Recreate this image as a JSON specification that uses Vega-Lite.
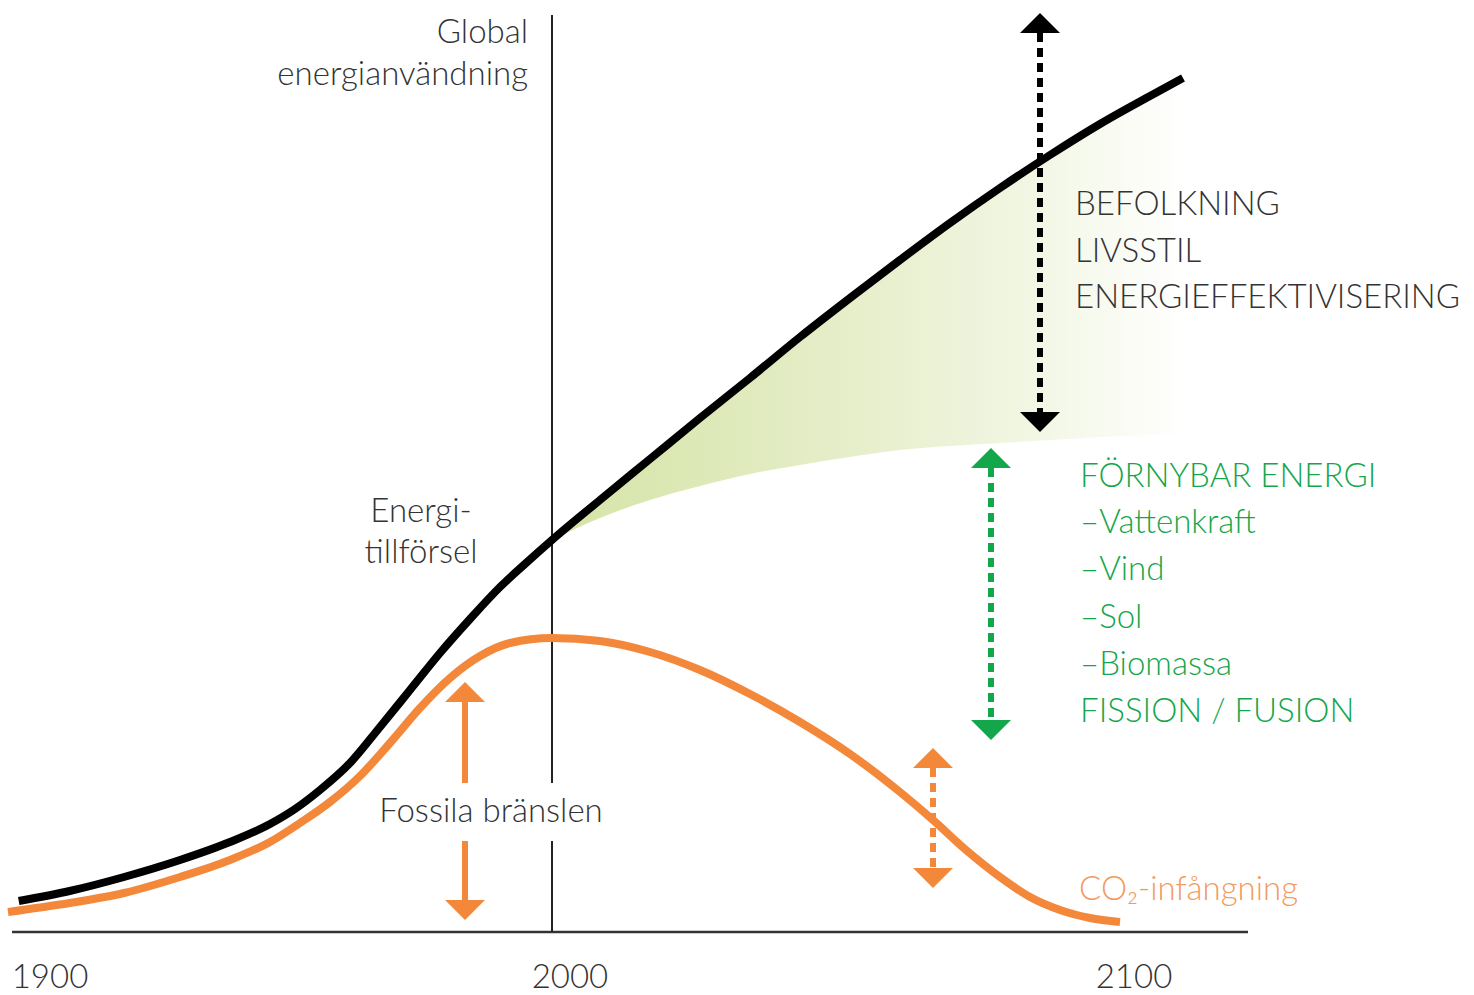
{
  "$schema": "https://vega.github.io/schema/vega-lite/v6.json",
  "width": 1474,
  "height": 995,
  "autosize": {"type": "none"},
  "padding": 0,
  "background": "white",
  "config": {"view": {"stroke": null}},
  "datasets": {
    "curves": [
      {"series": "energy", "year": 1899.76, "value": 94},
      {"series": "energy", "year": 1909.34, "value": 104},
      {"series": "energy", "year": 1919.55, "value": 118},
      {"series": "energy", "year": 1930.08, "value": 135},
      {"series": "energy", "year": 1939.47, "value": 153},
      {"series": "energy", "year": 1946.99, "value": 171},
      {"series": "energy", "year": 1951.69, "value": 186},
      {"series": "energy", "year": 1956.39, "value": 205},
      {"series": "energy", "year": 1962.03, "value": 232},
      {"series": "energy", "year": 1967.67, "value": 268},
      {"series": "energy", "year": 1973.31, "value": 305},
      {"series": "energy", "year": 1978.95, "value": 342},
      {"series": "energy", "year": 1984.59, "value": 376},
      {"series": "energy", "year": 1990.23, "value": 408},
      {"series": "energy", "year": 1994.92, "value": 431},
      {"series": "energy", "year": 2000, "value": 455},
      {"series": "energy", "year": 2009.02, "value": 495},
      {"series": "energy", "year": 2018.42, "value": 536},
      {"series": "energy", "year": 2027.82, "value": 577},
      {"series": "energy", "year": 2037.22, "value": 617},
      {"series": "energy", "year": 2046.62, "value": 658},
      {"series": "energy", "year": 2056.02, "value": 697},
      {"series": "energy", "year": 2065.41, "value": 735},
      {"series": "energy", "year": 2074.81, "value": 772},
      {"series": "energy", "year": 2084.21, "value": 807},
      {"series": "energy", "year": 2093.61, "value": 840},
      {"series": "energy", "year": 2103.01, "value": 871},
      {"series": "energy", "year": 2112.41, "value": 899},
      {"series": "energy", "year": 2118.61, "value": 917},
      {"series": "fossil", "year": 1897.74, "value": 83},
      {"series": "fossil", "year": 1909.34, "value": 92},
      {"series": "fossil", "year": 1919.55, "value": 102},
      {"series": "fossil", "year": 1930.08, "value": 118},
      {"series": "fossil", "year": 1939.47, "value": 135},
      {"series": "fossil", "year": 1946.99, "value": 153},
      {"series": "fossil", "year": 1952.63, "value": 172},
      {"series": "fossil", "year": 1958.27, "value": 193},
      {"series": "fossil", "year": 1963.91, "value": 219},
      {"series": "fossil", "year": 1969.55, "value": 252},
      {"series": "fossil", "year": 1975.19, "value": 287},
      {"series": "fossil", "year": 1980.83, "value": 317},
      {"series": "fossil", "year": 1986.47, "value": 339},
      {"series": "fossil", "year": 1992.11, "value": 352},
      {"series": "fossil", "year": 2000, "value": 357},
      {"series": "fossil", "year": 2009.02, "value": 354},
      {"series": "fossil", "year": 2018.42, "value": 343},
      {"series": "fossil", "year": 2027.82, "value": 325},
      {"series": "fossil", "year": 2037.22, "value": 301},
      {"series": "fossil", "year": 2046.62, "value": 273},
      {"series": "fossil", "year": 2056.02, "value": 241},
      {"series": "fossil", "year": 2065.41, "value": 203},
      {"series": "fossil", "year": 2071.62, "value": 175},
      {"series": "fossil", "year": 2077.82, "value": 145},
      {"series": "fossil", "year": 2084.21, "value": 118},
      {"series": "fossil", "year": 2089.85, "value": 98},
      {"series": "fossil", "year": 2095.49, "value": 85},
      {"series": "fossil", "year": 2101.13, "value": 77},
      {"series": "fossil", "year": 2106.77, "value": 73}
    ],
    "band": [
      {"year": 2000, "upper": 455, "lower": 455},
      {"year": 2009.02, "upper": 495, "lower": 477},
      {"year": 2018.42, "upper": 536, "lower": 495},
      {"year": 2027.82, "upper": 577, "lower": 509},
      {"year": 2037.22, "upper": 617, "lower": 521},
      {"year": 2046.62, "upper": 658, "lower": 530},
      {"year": 2056.02, "upper": 697, "lower": 538},
      {"year": 2065.41, "upper": 735, "lower": 545},
      {"year": 2074.81, "upper": 772, "lower": 549},
      {"year": 2084.21, "upper": 807, "lower": 552},
      {"year": 2093.61, "upper": 840, "lower": 555},
      {"year": 2103.01, "upper": 871, "lower": 558},
      {"year": 2112.41, "upper": 899, "lower": 560},
      {"year": 2118.61, "upper": 917, "lower": 561}
    ],
    "baseline": [{"year": 1898.5, "year2": 2130.83, "value": 63}],
    "marker": [
      {"year": 2000, "from": 980, "to": 212},
      {"year": 2000, "from": 154, "to": 63}
    ],
    "shafts": [
      {"kind": "energy", "style": "dashed", "year": 2091.73, "from": 962, "to": 583},
      {"kind": "renewable", "style": "dashed", "year": 2082.52, "from": 527, "to": 275},
      {"kind": "fossil", "style": "dashed", "year": 2071.62, "from": 227, "to": 127},
      {"kind": "fossil", "style": "solid", "year": 1983.65, "from": 293, "to": 212},
      {"kind": "fossil", "style": "solid", "year": 1983.65, "from": 154, "to": 95}
    ],
    "heads": [
      {"kind": "energy", "dir": "up", "year": 2091.73, "value": 962},
      {"kind": "energy", "dir": "down", "year": 2091.73, "value": 583},
      {"kind": "renewable", "dir": "up", "year": 2082.52, "value": 527},
      {"kind": "renewable", "dir": "down", "year": 2082.52, "value": 275},
      {"kind": "fossil", "dir": "up", "year": 2071.62, "value": 227},
      {"kind": "fossil", "dir": "down", "year": 2071.62, "value": 127},
      {"kind": "fossil", "dir": "up", "year": 1983.65, "value": 293},
      {"kind": "fossil", "dir": "down", "year": 1983.65, "value": 95}
    ],
    "labels": [
      {"text": "Global", "kind": "label", "anchor": "end", "year": 1995.49, "value": 952},
      {"text": "energianvändning", "kind": "label", "anchor": "end", "year": 1995.49, "value": 910},
      {"text": "Energi-", "kind": "label", "anchor": "middle", "year": 1975.38, "value": 473},
      {"text": "tillförsel", "kind": "label", "anchor": "middle", "year": 1975.38, "value": 432},
      {"text": "Fossila bränslen", "kind": "label", "anchor": "middle", "year": 1988.53, "value": 173},
      {"text": "1900", "kind": "label", "anchor": "middle", "year": 1905.64, "value": 7},
      {"text": "2000", "kind": "label", "anchor": "middle", "year": 2003.38, "value": 7},
      {"text": "2100", "kind": "label", "anchor": "middle", "year": 2109.4, "value": 7},
      {"text": "BEFOLKNING", "kind": "label", "anchor": "start", "year": 2098.31, "value": 780},
      {"text": "LIVSSTIL", "kind": "label", "anchor": "start", "year": 2098.31, "value": 733},
      {"text": "ENERGIEFFEKTIVISERING", "kind": "label", "anchor": "start", "year": 2098.31, "value": 687},
      {"text": "FÖRNYBAR ENERGI", "kind": "renewable", "anchor": "start", "year": 2099.25, "value": 508},
      {"text": "–Vattenkraft", "kind": "renewable", "anchor": "start", "year": 2099.25, "value": 462},
      {"text": "–Vind", "kind": "renewable", "anchor": "start", "year": 2099.25, "value": 415},
      {"text": "–Sol", "kind": "renewable", "anchor": "start", "year": 2099.25, "value": 367},
      {"text": "–Biomassa", "kind": "renewable", "anchor": "start", "year": 2099.25, "value": 320},
      {"text": "FISSION / FUSION", "kind": "renewable", "anchor": "start", "year": 2099.25, "value": 273},
      {"text": "CO₂-infångning", "kind": "co2", "anchor": "start", "year": 2099.06, "value": 95}
    ]
  },
  "layer": [
    {
      "data": {"name": "band"},
      "mark": {
        "type": "area",
        "interpolate": "monotone",
        "color": {
          "gradient": "linear",
          "x1": 0, "y1": 0, "x2": 1, "y2": 0,
          "stops": [
            {"offset": 0, "color": "#d6e4a6"},
            {"offset": 0.4, "color": "#e3ecc4"},
            {"offset": 0.75, "color": "#f1f6e2"},
            {"offset": 1, "color": "#ffffff"}
          ]
        }
      },
      "encoding": {
        "x": {"field": "year", "type": "quantitative", "scale": {"domain": [1896.24, 2173.31], "nice": false, "zero": false}, "axis": null},
        "y": {"field": "upper", "type": "quantitative", "scale": {"domain": [0, 995], "nice": false, "zero": false}, "axis": null},
        "y2": {"field": "lower"}
      }
    },
    {
      "data": {"name": "baseline"},
      "mark": {"type": "rule", "color": "#333333", "strokeWidth": 2.5},
      "encoding": {
        "x": {"field": "year", "type": "quantitative", "scale": {"domain": [1896.24, 2173.31], "nice": false, "zero": false}, "axis": null},
        "x2": {"field": "year2"},
        "y": {"field": "value", "type": "quantitative", "scale": {"domain": [0, 995], "nice": false, "zero": false}, "axis": null}
      }
    },
    {
      "data": {"name": "marker"},
      "mark": {"type": "rule", "color": "#222222", "strokeWidth": 2},
      "encoding": {
        "x": {"field": "year", "type": "quantitative", "scale": {"domain": [1896.24, 2173.31], "nice": false, "zero": false}, "axis": null},
        "y": {"field": "from", "type": "quantitative", "scale": {"domain": [0, 995], "nice": false, "zero": false}, "axis": null},
        "y2": {"field": "to"}
      }
    },
    {
      "data": {"name": "curves"},
      "mark": {"type": "line", "interpolate": "monotone", "strokeWidth": 8, "strokeCap": "butt"},
      "encoding": {
        "x": {"field": "year", "type": "quantitative", "scale": {"domain": [1896.24, 2173.31], "nice": false, "zero": false}, "axis": null},
        "y": {"field": "value", "type": "quantitative", "scale": {"domain": [0, 995], "nice": false, "zero": false}, "axis": null},
        "color": {"field": "series", "type": "nominal", "scale": {"domain": ["energy", "fossil", "renewable", "label", "co2"], "range": ["#000000", "#f3883a", "#14a64a", "#333333", "#f39a5e"]}, "legend": null},
        "order": {"field": "year", "type": "quantitative"}
      }
    },
    {
      "data": {"name": "shafts"},
      "transform": [{"filter": "datum.style === 'dashed'"}],
      "mark": {"type": "rule", "strokeWidth": 6, "strokeDash": [9, 6]},
      "encoding": {
        "x": {"field": "year", "type": "quantitative", "scale": {"domain": [1896.24, 2173.31], "nice": false, "zero": false}, "axis": null},
        "y": {"field": "from", "type": "quantitative", "scale": {"domain": [0, 995], "nice": false, "zero": false}, "axis": null},
        "y2": {"field": "to"},
        "color": {"field": "kind", "type": "nominal", "scale": {"domain": ["energy", "fossil", "renewable", "label", "co2"], "range": ["#000000", "#f3883a", "#14a64a", "#333333", "#f39a5e"]}, "legend": null}
      }
    },
    {
      "data": {"name": "shafts"},
      "transform": [{"filter": "datum.style === 'solid'"}],
      "mark": {"type": "rule", "strokeWidth": 6},
      "encoding": {
        "x": {"field": "year", "type": "quantitative", "scale": {"domain": [1896.24, 2173.31], "nice": false, "zero": false}, "axis": null},
        "y": {"field": "from", "type": "quantitative", "scale": {"domain": [0, 995], "nice": false, "zero": false}, "axis": null},
        "y2": {"field": "to"},
        "color": {"field": "kind", "type": "nominal", "scale": {"domain": ["energy", "fossil", "renewable", "label", "co2"], "range": ["#000000", "#f3883a", "#14a64a", "#333333", "#f39a5e"]}, "legend": null}
      }
    },
    {
      "data": {"name": "heads"},
      "transform": [{"filter": "datum.dir === 'up'"}],
      "mark": {"type": "point", "shape": "M-1,0L0,-1L1,0Z", "filled": true, "opacity": 1, "size": 1600, "strokeWidth": 0},
      "encoding": {
        "x": {"field": "year", "type": "quantitative", "scale": {"domain": [1896.24, 2173.31], "nice": false, "zero": false}, "axis": null},
        "y": {"field": "value", "type": "quantitative", "scale": {"domain": [0, 995], "nice": false, "zero": false}, "axis": null},
        "color": {"field": "kind", "type": "nominal", "scale": {"domain": ["energy", "fossil", "renewable", "label", "co2"], "range": ["#000000", "#f3883a", "#14a64a", "#333333", "#f39a5e"]}, "legend": null}
      }
    },
    {
      "data": {"name": "heads"},
      "transform": [{"filter": "datum.dir === 'down'"}],
      "mark": {"type": "point", "shape": "M-1,0L0,1L1,0Z", "filled": true, "opacity": 1, "size": 1600, "strokeWidth": 0},
      "encoding": {
        "x": {"field": "year", "type": "quantitative", "scale": {"domain": [1896.24, 2173.31], "nice": false, "zero": false}, "axis": null},
        "y": {"field": "value", "type": "quantitative", "scale": {"domain": [0, 995], "nice": false, "zero": false}, "axis": null},
        "color": {"field": "kind", "type": "nominal", "scale": {"domain": ["energy", "fossil", "renewable", "label", "co2"], "range": ["#000000", "#f3883a", "#14a64a", "#333333", "#f39a5e"]}, "legend": null}
      }
    },
    {
      "data": {"name": "labels"},
      "transform": [{"filter": "datum.anchor === 'end'"}],
      "mark": {"type": "text", "align": "right", "baseline": "alphabetic", "font": "Lato", "fontWeight": 300, "fontSize": 33},
      "encoding": {
        "x": {"field": "year", "type": "quantitative", "scale": {"domain": [1896.24, 2173.31], "nice": false, "zero": false}, "axis": null},
        "y": {"field": "value", "type": "quantitative", "scale": {"domain": [0, 995], "nice": false, "zero": false}, "axis": null},
        "text": {"field": "text"},
        "color": {"field": "kind", "type": "nominal", "scale": {"domain": ["energy", "fossil", "renewable", "label", "co2"], "range": ["#000000", "#f3883a", "#14a64a", "#333333", "#f39a5e"]}, "legend": null}
      }
    },
    {
      "data": {"name": "labels"},
      "transform": [{"filter": "datum.anchor === 'middle'"}],
      "mark": {"type": "text", "align": "center", "baseline": "alphabetic", "font": "Lato", "fontWeight": 300, "fontSize": 33},
      "encoding": {
        "x": {"field": "year", "type": "quantitative", "scale": {"domain": [1896.24, 2173.31], "nice": false, "zero": false}, "axis": null},
        "y": {"field": "value", "type": "quantitative", "scale": {"domain": [0, 995], "nice": false, "zero": false}, "axis": null},
        "text": {"field": "text"},
        "color": {"field": "kind", "type": "nominal", "scale": {"domain": ["energy", "fossil", "renewable", "label", "co2"], "range": ["#000000", "#f3883a", "#14a64a", "#333333", "#f39a5e"]}, "legend": null}
      }
    },
    {
      "data": {"name": "labels"},
      "transform": [{"filter": "datum.anchor === 'start'"}],
      "mark": {"type": "text", "align": "left", "baseline": "alphabetic", "font": "Lato", "fontWeight": 300, "fontSize": 33},
      "encoding": {
        "x": {"field": "year", "type": "quantitative", "scale": {"domain": [1896.24, 2173.31], "nice": false, "zero": false}, "axis": null},
        "y": {"field": "value", "type": "quantitative", "scale": {"domain": [0, 995], "nice": false, "zero": false}, "axis": null},
        "text": {"field": "text"},
        "color": {"field": "kind", "type": "nominal", "scale": {"domain": ["energy", "fossil", "renewable", "label", "co2"], "range": ["#000000", "#f3883a", "#14a64a", "#333333", "#f39a5e"]}, "legend": null}
      }
    }
  ]
}
